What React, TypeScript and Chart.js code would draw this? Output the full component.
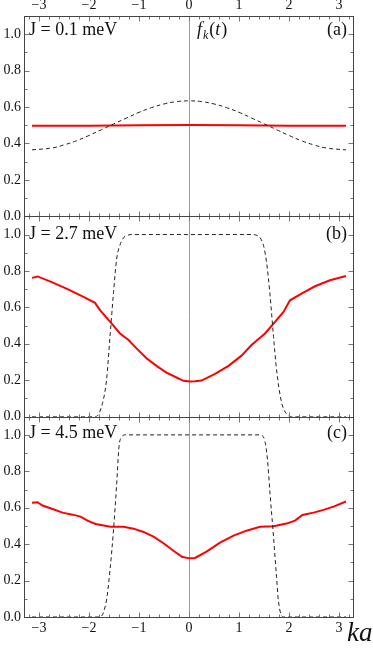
import React, { useEffect, useRef } from "react";
import { Chart, registerables } from "chart.js";

Chart.register(...registerables);

// ---------- data ----------
const xTickValues = [-3, -2, -1, 0, 1, 2, 3];
const yTickValues = [0, 0.2, 0.4, 0.6, 0.8, 1.0];
const panelTitles = ["J = 0.1 meV", "J = 2.7 meV", "J = 4.5 meV"];
const panelTags = ["(a)", "(b)", "(c)"];

// panel (a)
const kRedA = [-3.14, -2, -1, 0, 1, 2, 3.14];
const redA = [0.497, 0.498, 0.5, 0.501, 0.5, 0.498, 0.497];
const kDashA = [-3.14, -2.75, -2.5, -2.25, -2, -1.75, -1.5, -1.25, -1, -0.75, -0.5, -0.25, 0, 0.25, 0.5, 0.75, 1, 1.25, 1.5, 1.75, 2, 2.25, 2.5, 2.75, 3.14];
const dashA = [0.365, 0.375, 0.392, 0.415, 0.444, 0.476, 0.508, 0.54, 0.571, 0.597, 0.617, 0.63, 0.634, 0.63, 0.617, 0.597, 0.571, 0.54, 0.508, 0.476, 0.444, 0.415, 0.392, 0.375, 0.365];

// panel (b)
const kRedB = [-3.14, -3.03, -2.78, -2.45, -2.11, -1.88, -1.78, -1.55, -1.38, -1.21, -1.05, -0.85, -0.65, -0.45, -0.25, -0.11, 0.02, 0.12, 0.25, 0.52, 0.79, 1.05, 1.25, 1.52, 1.72, 1.89, 2.02, 2.25, 2.52, 2.82, 3.14];
const redB = [0.762, 0.77, 0.743, 0.703, 0.658, 0.625, 0.585, 0.512, 0.457, 0.421, 0.375, 0.321, 0.279, 0.242, 0.215, 0.197, 0.193, 0.194, 0.198, 0.235, 0.279, 0.335, 0.393, 0.457, 0.521, 0.575, 0.639, 0.676, 0.716, 0.749, 0.772];
const kDashB = [-3.14, -1.88, -1.78, -1.65, -1.58, -1.51, -1.45, -1.37, -1.28, -1.11, 1.25, 1.39, 1.49, 1.55, 1.62, 1.69, 1.75, 1.85, 1.95, 2.05, 3.14];
const dashB = [0, 0, 0.03, 0.2, 0.44, 0.68, 0.86, 0.95, 0.99, 1.0, 1.0, 0.99, 0.94, 0.85, 0.67, 0.44, 0.26, 0.08, 0.015, 0, 0];

// panel (c)
const kRedC = [-3.14, -3.03, -2.93, -2.73, -2.53, -2.33, -2.17, -2.03, -1.87, -1.57, -1.31, -1.11, -0.91, -0.71, -0.51, -0.31, -0.14, 0.0, 0.12, 0.35, 0.62, 0.89, 1.15, 1.42, 1.69, 1.95, 2.12, 2.27, 2.49, 2.69, 2.89, 3.14];
const redC = [0.628, 0.63, 0.612, 0.593, 0.573, 0.562, 0.551, 0.529, 0.511, 0.496, 0.496, 0.485, 0.467, 0.441, 0.405, 0.364, 0.331, 0.322, 0.324, 0.359, 0.408, 0.447, 0.474, 0.495, 0.498, 0.513, 0.529, 0.56, 0.573, 0.588, 0.606, 0.634];
const kDashC = [-3.14, -1.78, -1.65, -1.58, -1.51, -1.45, -1.4, -1.36, -1.27, 1.42, 1.52, 1.57, 1.62, 1.69, 1.75, 1.79, 1.89, 3.14];
const dashC = [0, 0, 0.093, 0.258, 0.478, 0.716, 0.936, 0.982, 1.0, 1.0, 0.963, 0.863, 0.68, 0.441, 0.221, 0.084, 0, 0];

const pts = (k: number[], v: number[]) => k.map((x, i) => ({ x, y: v[i] }));

const SERIF = "'Liberation Serif', 'Times New Roman', serif";

export default function App() {
  const ref = useRef<HTMLCanvasElement>(null);

  useEffect(() => {
    const canvas = ref.current;
    if (!canvas) return;
    const yIds = ["yA", "yB", "yC"];

    const framePlugin = {
      id: "frame",
      beforeDatasetsDraw(chart: any) {
        const { ctx, chartArea: ca } = chart;
        const x0 = Math.round(chart.scales.x.getPixelForValue(0)) + 0.5;
        ctx.save();
        ctx.strokeStyle = "#9a9a9a";
        ctx.lineWidth = 1;
        ctx.beginPath();
        ctx.moveTo(x0, ca.top);
        ctx.lineTo(x0, ca.bottom);
        ctx.stroke();
        ctx.restore();
      },
      afterDatasetsDraw(chart: any) {
        const { ctx, chartArea: ca } = chart;
        const xs = chart.scales.x;
        const L = Math.round(ca.left) + 0.5;
        const R = Math.round(ca.right) + 0.5;
        ctx.save();
        ctx.lineWidth = 1;
        for (const id of yIds) {
          const ys = chart.scales[id];
          const top = Math.round(ys.getPixelForValue(ys.max)) + 0.5;
          const bot = Math.round(ys.getPixelForValue(0)) + 0.5;
          ctx.strokeStyle = "#777";
          ctx.beginPath();
          for (let i = -16; i <= 16; i++) {
            const v = i / 5;
            if (v < xs.min || v > xs.max) continue;
            const px = Math.round(xs.getPixelForValue(v)) + 0.5;
            const len = i % 5 === 0 ? 5 : 3;
            ctx.moveTo(px, top);
            ctx.lineTo(px, top + len);
            ctx.moveTo(px, bot);
            ctx.lineTo(px, bot - len);
          }
          for (let j = 1; j <= 10; j++) {
            const py = Math.round(ys.getPixelForValue(j / 10)) + 0.5;
            const len = j % 2 === 0 ? 5 : 3;
            ctx.moveTo(L, py);
            ctx.lineTo(L + len, py);
            ctx.moveTo(R, py);
            ctx.lineTo(R - len, py);
          }
          ctx.stroke();
          ctx.strokeStyle = "#444";
          ctx.strokeRect(L, top, R - L, bot - top);
        }
        ctx.restore();
      },
      afterDraw(chart: any) {
        const { ctx, chartArea: ca } = chart;
        const offs = [19, 23, 21];
        ctx.save();
        ctx.fillStyle = "#111";
        ctx.textBaseline = "alphabetic";
        yIds.forEach((id, i) => {
          const ys = chart.scales[id];
          const base = ys.getPixelForValue(ys.max) + offs[i];
          ctx.font = `18px ${SERIF}`;
          ctx.textAlign = "left";
          ctx.fillText(panelTitles[i], ca.left + 5, base);
          ctx.textAlign = "right";
          ctx.fillText(panelTags[i], ca.right - 6, base);
          if (i === 0) {
            // f_k(t)
            let x = chart.scales.x.getPixelForValue(0) + 8;
            ctx.textAlign = "left";
            ctx.font = `italic 18px ${SERIF}`;
            ctx.fillText("f", x, base);
            x += ctx.measureText("f").width + 1;
            ctx.font = `italic 12px ${SERIF}`;
            ctx.fillText("k", x, base + 4);
            x += ctx.measureText("k").width + 1;
            ctx.font = `18px ${SERIF}`;
            ctx.fillText("(", x, base);
            x += ctx.measureText("(").width;
            ctx.font = `italic 18px ${SERIF}`;
            ctx.fillText("t", x, base);
            x += ctx.measureText("t").width + 1;
            ctx.font = `18px ${SERIF}`;
            ctx.fillText(")", x, base);
          }
        });
        ctx.font = `italic 27px ${SERIF}`;
        ctx.textAlign = "left";
        ctx.fillText("ka", ca.right - 6, 641);
        ctx.restore();
      },
    };

    const xTicksCfg = {
      font: { family: SERIF, size: 14 },
      color: "#111",
      padding: 3,
      callback: (v: any) => String(v).replace("-", "\u2212"),
    };
    const setXTicks = (s: any) => {
      s.ticks = xTickValues.map((v) => ({ value: v }));
    };
    const setYTicks = (s: any) => {
      s.ticks = yTickValues.map((v) => ({ value: v }));
    };
    const yAxis = () => ({
      type: "linear",
      position: "left",
      stack: "panels",
      stackWeight: 1,
      min: 0,
      max: 1.1,
      offset: false,
      grid: { display: false, drawTicks: false },
      border: { display: false },
      afterBuildTicks: setYTicks,
      afterFit: (s: any) => {
        s.width = 24;
      },
      ticks: {
        font: { family: SERIF, size: 14 },
        color: "#111",
        padding: 3,
        callback: (v: any) => Number(v).toFixed(1),
      },
    });

    const lineDs = (data: any, yAxisID: string, red: boolean, mono: boolean) => ({
      data,
      yAxisID,
      xAxisID: "x",
      borderColor: red ? "#ff0000" : "#222",
      borderWidth: red ? 2 : 1,
      borderDash: red ? [] : [4, 3],
      pointRadius: 0,
      fill: false,
      tension: red ? 0 : 0.4,
      cubicInterpolationMode: mono ? "monotone" : "default",
    });

    const chart = new Chart(canvas, {
      type: "line",
      data: {
        datasets: [
          lineDs(pts(kDashA, dashA), "yA", false, false),
          lineDs(pts(kRedA, redA), "yA", true, false),
          lineDs(pts(kDashB, dashB), "yB", false, true),
          lineDs(pts(kRedB, redB), "yB", true, false),
          lineDs(pts(kDashC, dashC), "yC", false, true),
          lineDs(pts(kRedC, redC), "yC", true, false),
        ] as any,
      },
      options: {
        animation: false,
        responsive: false,
        devicePixelRatio: 1,
        layout: { padding: { left: 0, right: 20, top: 0, bottom: 0 } },
        plugins: { legend: { display: false }, tooltip: { enabled: false } },
        scales: {
          x: {
            type: "linear",
            position: "bottom",
            min: -3.3,
            max: 3.28,
            grid: { display: false, drawTicks: false },
            border: { display: false },
            afterBuildTicks: setXTicks,
            afterFit: (s: any) => {
              s.height = 32;
            },
            ticks: xTicksCfg,
          },
          xTop: {
            type: "linear",
            position: "top",
            min: -3.3,
            max: 3.28,
            grid: { display: false, drawTicks: false },
            border: { display: false },
            afterBuildTicks: setXTicks,
            afterFit: (s: any) => {
              s.height = 16;
            },
            ticks: { ...xTicksCfg, padding: 2 },
          },
          yC: yAxis(),
          yB: yAxis(),
          yA: yAxis(),
        } as any,
      },
      plugins: [framePlugin],
    } as any);

    return () => chart.destroy();
  }, []);

  return (
    <div style={{ position: "fixed", left: 0, top: 0, width: 373, height: 649, background: "#fff" }}>
      <canvas ref={ref} width={373} height={649} style={{ display: "block", width: 373, height: 649 }} />
    </div>
  );
}
